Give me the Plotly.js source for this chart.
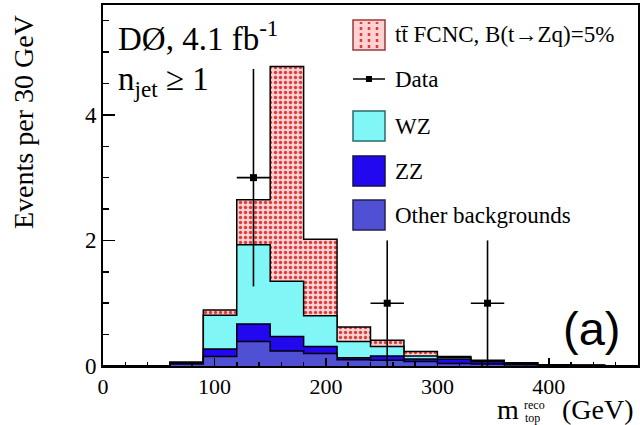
<!DOCTYPE html>
<html>
<head>
<meta charset="utf-8">
<script src="https://cdn.plot.ly/plotly-3.0.1.min.js"></script>
<style>html,body{margin:0;padding:0;background:#fff;}#chart{width:640px;height:425px;}</style>
</head>
<body>
<div id="chart"></div>
<script>
// Bin lower edges (GeV), 30 GeV bins
const binLow = [0,30,60,90,120,150,180,210,240,270,300,330,360,390,420,450];
const binWidth = 30;
// Stacked components (events per bin)
const other = [0,0,0.03,0.15,0.39,0.24,0.20,0.10,0.09,0.07,0.04,0.03,0.02,0.01,0.005,0.005];
const zz    = [0,0,0.02,0.12,0.28,0.23,0.11,0.03,0.07,0.04,0.07,0.04,0.02,0.01,0.005,0];
const wz    = [0,0,0.01,0.54,1.26,0.88,0.49,0.26,0.15,0.05,0.03,0.01,0.01,0,0,0];
const fcnc  = [0,0,0,0.08,0.72,3.42,1.22,0.23,0.10,0.07,0.01,0.01,0,0,0,0];
// Data points
const dataX = [135,255,345];
const dataY = [3,1,1];
const dataErr = [1.732,1,1];
// Legend labels
const legendLabels = ['tt\u0304 FCNC, B(t→Zq)=5%', 'Data', 'WZ', 'ZZ', 'Other backgrounds'];

function cum(...arrs){ return binLow.map((_,i)=>arrs.reduce((s,a)=>s+a[i],0)); }
const edges = binLow.concat([binLow[binLow.length-1]+binWidth]);
function stepY(v){ return v.concat([v[v.length-1]]); }

const cOther = cum(other);
const cZZ = cum(other,zz);
const cWZ = cum(other,zz,wz);
const cAll = cum(other,zz,wz,fcnc);

const colFCNC = '#fcd2d2', colDots = '#e23a3a', colWZ = '#80f6f6', colZZ = '#2208ee', colOther = '#5050d4';

const lineStyle = {color:'#000', width:1.5, shape:'hv'};
const traces = [
  {x:edges, y:stepY(cAll), type:'scatter', mode:'lines', line:lineStyle, fill:'tozeroy',
   fillcolor:colFCNC, fillpattern:{shape:'.', fgcolor:colDots, bgcolor:colFCNC, size:5, solidity:0.35},
   name:legendLabels[0], showlegend:false},
  {x:edges, y:stepY(cWZ), type:'scatter', mode:'lines', line:lineStyle, fill:'tozeroy', fillcolor:colWZ, name:legendLabels[2], showlegend:false},
  {x:edges, y:stepY(cZZ), type:'scatter', mode:'lines', line:lineStyle, fill:'tozeroy', fillcolor:colZZ, name:legendLabels[3], showlegend:false},
  {x:edges, y:stepY(cOther), type:'scatter', mode:'lines', line:lineStyle, fill:'tozeroy', fillcolor:colOther, name:legendLabels[4], showlegend:false},
  {x:dataX, y:dataY, type:'scatter', mode:'markers', marker:{symbol:'square', size:7, color:'#000'},
   error_y:{type:'data', array:dataErr, color:'#000', thickness:1.6, width:0},
   error_x:{type:'constant', value:binWidth/2, color:'#000', thickness:1.6, width:0},
   name:legendLabels[1], showlegend:false}
];

const L=103, R=2, T=5, B=59, W=640, H=425;
const pw=W-L-R, ph=H-T-B;
const px = x => (x-L)/pw;
const py = y => (H-B-y)/ph;
const serif = 'Liberation Serif, Times New Roman, serif';

// Legend drawn as shapes + texts in paper space
const boxX0 = 353, boxX1 = 385, textX = 393;
const rows = [35, 79, 126, 171, 215];
const half = 15;
function rect(cy, fill, border){
  return {type:'rect', xref:'paper', yref:'paper', x0:px(boxX0), x1:px(boxX1), y0:py(cy+half), y1:py(cy-half),
          fillcolor:fill, line:{color:border, width:1.5}, layer:'above'};
}
const shapes = [
  rect(rows[0], colFCNC, '#9a3a3a'),
  rect(rows[2], colWZ, '#2a6a6a'),
  rect(rows[3], colZZ, '#141050'),
  rect(rows[4], colOther, '#242050'),
  {type:'line', xref:'paper', yref:'paper', x0:px(boxX0), x1:px(boxX1), y0:py(rows[1]), y1:py(rows[1]),
   line:{color:'#000', width:1.5}, layer:'above'},
  {type:'rect', xref:'paper', yref:'paper', x0:px(366), x1:px(372), y0:py(rows[1]+3), y1:py(rows[1]-3),
   fillcolor:'#000', line:{width:0}, layer:'above'}
];
[361,369,377].forEach(xx=>{
  shapes.push({type:'line', xref:'paper', yref:'paper', x0:px(xx), x1:px(xx), y0:py(rows[0]+13), y1:py(rows[0]-13),
               line:{color:colDots, width:2.5, dash:'dot'}, layer:'above'});
});

const annotations = legendLabels.map((t,i)=>({xref:'paper', yref:'paper', x:px(textX), y:py(rows[i]),
  xanchor:'left', yanchor:'middle', showarrow:false, text:t, font:{family:serif, size:23, color:'#000'}}));

annotations.push(
  {xref:'paper', yref:'paper', x:px(116), y:py(36), xanchor:'left', yanchor:'middle', showarrow:false,
   text:'DØ, 4.1 fb<sup>-1</sup>', font:{family:serif, size:33, color:'#000'}},
  {xref:'paper', yref:'paper', x:px(116), y:py(81), xanchor:'left', yanchor:'middle', showarrow:false,
   text:'n<sub>jet</sub> ≥ 1', font:{family:serif, size:33, color:'#000'}},
  {xref:'paper', yref:'paper', x:px(622), y:py(328), xanchor:'right', yanchor:'middle', showarrow:false,
   text:'(a)', font:{family:'Liberation Sans, Arial, sans-serif', size:47, color:'#000'}},
  {xref:'paper', yref:'paper', x:px(23), y:py(122), xanchor:'center', yanchor:'middle', showarrow:false, textangle:-90,
   text:'Events per 30 GeV', font:{family:serif, size:28, color:'#000'}},
  {xref:'paper', yref:'paper', x:px(521), y:py(409), xanchor:'right', yanchor:'middle', showarrow:false,
   text:'m', font:{family:serif, size:28, color:'#000'}},
  {xref:'paper', yref:'paper', x:px(522), y:py(405), xanchor:'left', yanchor:'middle', showarrow:false,
   text:'reco', font:{family:serif, size:12, color:'#000'}},
  {xref:'paper', yref:'paper', x:px(523), y:py(418), xanchor:'left', yanchor:'middle', showarrow:false,
   text:'top', font:{family:serif, size:12, color:'#000'}},
  {xref:'paper', yref:'paper', x:px(636), y:py(409), xanchor:'right', yanchor:'middle', showarrow:false,
   text:'(GeV)', font:{family:serif, size:28, color:'#000'}}
);

const layout = {
  width:W, height:H,
  margin:{l:L, r:R, t:T, b:B},
  paper_bgcolor:'#fff', plot_bgcolor:'#fff',
  showlegend:false,
  xaxis:{range:[0,480], showline:true, linecolor:'#000', linewidth:2, mirror:true,
         ticks:'inside', ticklen:8, tickwidth:1.5, tickcolor:'#000', dtick:100, tick0:0,
         minor:{dtick:20, ticks:'inside', ticklen:4, tickcolor:'#000', tickwidth:1.5},
         showgrid:false, zeroline:false, tickfont:{family:serif, size:22, color:'#000'}},
  yaxis:{range:[0,5.75], showline:true, linecolor:'#000', linewidth:2, mirror:true,
         ticks:'inside', ticklen:12, tickwidth:1.5, tickcolor:'#000', dtick:2, tick0:0,
         minor:{dtick:0.5, ticks:'inside', ticklen:6, tickcolor:'#000', tickwidth:1.5},
         showgrid:false, zeroline:false, tickfont:{family:serif, size:23, color:'#000'}},
  shapes:shapes,
  annotations:annotations
};

Plotly.newPlot('chart', traces, layout, {displayModeBar:false, staticPlot:true});
</script>
</body>
</html>
